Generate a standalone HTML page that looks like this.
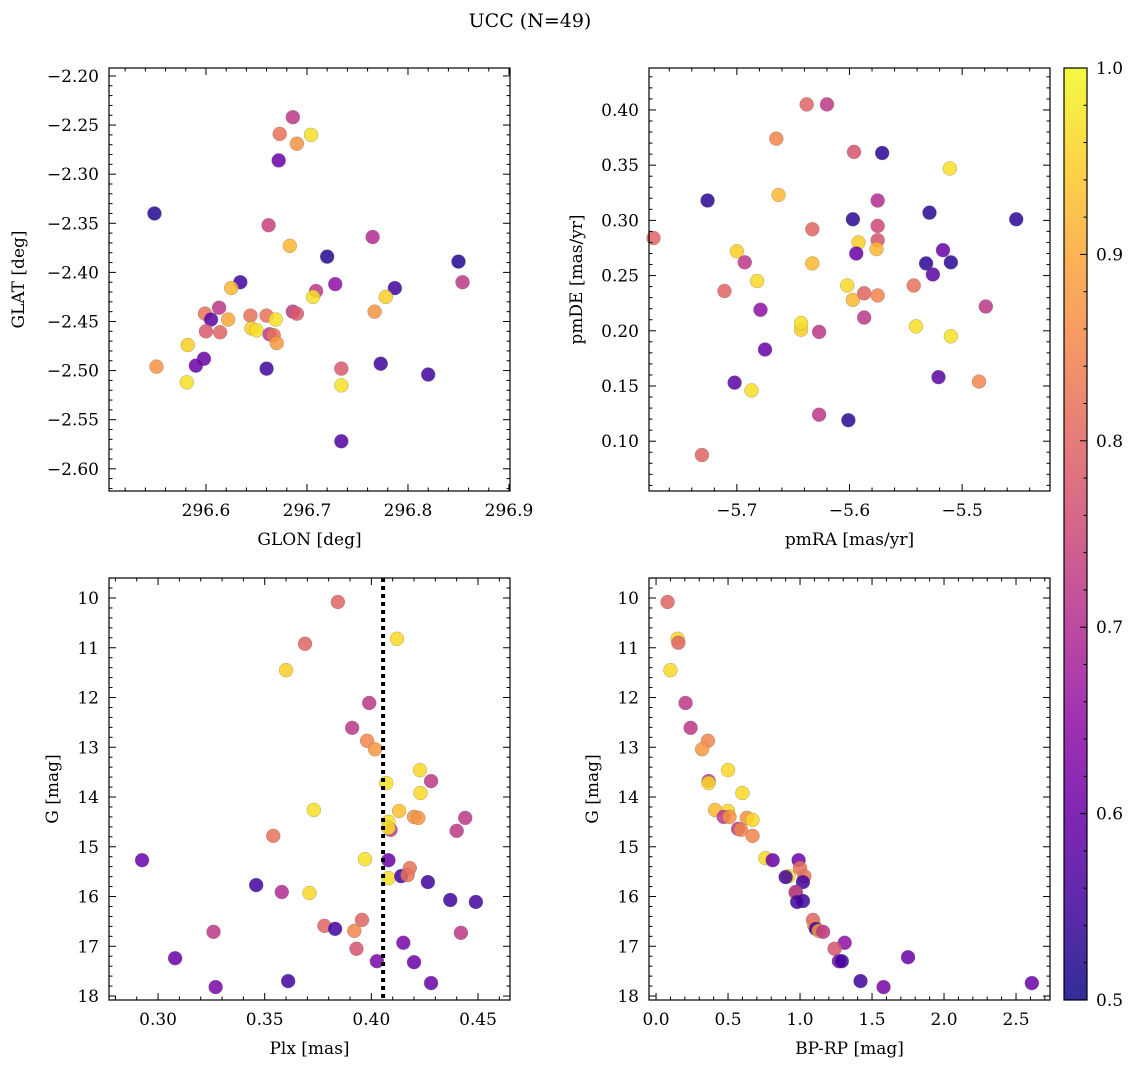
<!DOCTYPE html>
<html><head><meta charset="utf-8"><style>
body{margin:0;background:#fff}
svg{display:block;font-family:"DejaVu Serif","Liberation Serif",serif}
</style></head><body>
<svg id="fig" width="1136" height="1067" xmlns="http://www.w3.org/2000/svg">
<text x="530" y="27" font-size="19" text-anchor="middle">UCC (N=49)</text>
</svg>
<script>
// Panel 1: GLON vs GLAT
const glon=[296.549,296.686,296.673,296.704,296.690,296.672,296.662,296.683,296.720,296.765,296.850,296.634,296.854,296.728,296.787,296.625,296.709,296.706,296.778,296.599,296.644,296.660,296.686,296.690,296.767,296.605,296.622,296.669,296.613,296.600,296.614,296.645,296.650,296.663,296.667,296.670,296.582,296.598,296.590,296.551,296.660,296.734,296.773,296.820,296.581,296.734,296.734];
const glat=[-2.340,-2.242,-2.259,-2.260,-2.269,-2.286,-2.352,-2.373,-2.384,-2.364,-2.389,-2.410,-2.410,-2.412,-2.416,-2.416,-2.419,-2.425,-2.425,-2.442,-2.444,-2.444,-2.440,-2.442,-2.440,-2.448,-2.448,-2.448,-2.436,-2.460,-2.461,-2.457,-2.459,-2.463,-2.464,-2.472,-2.474,-2.488,-2.495,-2.496,-2.498,-2.498,-2.493,-2.504,-2.512,-2.515,-2.572];
const prob1=[0.52,0.72,0.82,0.97,0.87,0.6,0.74,0.92,0.52,0.7,0.52,0.55,0.72,0.65,0.55,0.92,0.72,0.97,0.95,0.82,0.82,0.82,0.72,0.78,0.87,0.58,0.9,0.97,0.72,0.78,0.8,0.95,0.97,0.72,0.82,0.88,0.95,0.6,0.6,0.87,0.55,0.78,0.55,0.55,0.97,0.97,0.57];
// Panel 2: pmRA vs pmDE
const pmra=[-5.774,-5.726,-5.711,-5.700,-5.693,-5.682,-5.731,-5.702,-5.687,-5.679,-5.675,-5.665,-5.663,-5.638,-5.620,-5.633,-5.633,-5.643,-5.643,-5.627,-5.627,-5.596,-5.571,-5.597,-5.575,-5.575,-5.575,-5.592,-5.576,-5.594,-5.602,-5.597,-5.587,-5.575,-5.587,-5.601,-5.511,-5.543,-5.541,-5.529,-5.532,-5.517,-5.510,-5.526,-5.521,-5.510,-5.485,-5.479,-5.452];
const pmde=[0.284,0.318,0.236,0.272,0.262,0.245,0.0875,0.153,0.146,0.219,0.183,0.374,0.323,0.405,0.405,0.292,0.261,0.201,0.207,0.199,0.124,0.362,0.361,0.301,0.318,0.295,0.282,0.280,0.274,0.270,0.241,0.228,0.234,0.232,0.212,0.119,0.347,0.241,0.204,0.307,0.261,0.273,0.262,0.251,0.158,0.195,0.154,0.222,0.301];
const prob2=[0.8,0.53,0.8,0.95,0.72,0.96,0.8,0.58,0.97,0.65,0.6,0.85,0.92,0.8,0.72,0.8,0.92,0.95,0.97,0.72,0.72,0.77,0.53,0.53,0.7,0.75,0.77,0.95,0.92,0.6,0.96,0.92,0.8,0.85,0.72,0.53,0.97,0.82,0.97,0.53,0.53,0.6,0.53,0.58,0.58,0.97,0.85,0.72,0.53];
// Panel 3: Plx vs G
const plx=[0.3843,0.3689,0.412,0.360,0.399,0.391,0.398,0.4017,0.4228,0.428,0.407,0.423,0.373,0.413,0.408,0.420,0.422,0.444,0.409,0.408,0.440,0.354,0.2925,0.397,0.408,0.418,0.408,0.414,0.417,0.4265,0.346,0.358,0.371,0.437,0.449,0.3956,0.378,0.383,0.392,0.326,0.442,0.415,0.393,0.308,0.4026,0.420,0.361,0.428,0.327];
const gmag3=[10.08,10.92,10.82,11.45,12.11,12.61,12.87,13.04,13.46,13.68,13.72,13.92,14.26,14.28,14.50,14.40,14.42,14.42,14.66,14.62,14.68,14.78,15.27,15.25,15.27,15.43,15.63,15.59,15.57,15.71,15.77,15.91,15.93,16.07,16.11,16.47,16.59,16.65,16.69,16.71,16.73,16.93,17.05,17.24,17.30,17.32,17.70,17.74,17.82];
const prob3=[0.8,0.8,0.96,0.95,0.72,0.72,0.85,0.88,0.96,0.72,0.97,0.96,0.97,0.93,0.97,0.87,0.87,0.72,0.72,0.97,0.72,0.82,0.6,0.97,0.6,0.82,0.97,0.55,0.82,0.55,0.55,0.7,0.96,0.55,0.55,0.8,0.8,0.55,0.85,0.72,0.72,0.62,0.77,0.6,0.62,0.6,0.55,0.6,0.62];
const plxMedian=[0.4055];
// Panel 4: BP-RP vs G
const bprp=[0.08,0.15,0.155,0.10,0.205,0.24,0.36,0.32,0.50,0.365,0.365,0.60,0.41,0.50,0.47,0.51,0.63,0.67,0.57,0.59,0.67,0.76,0.81,0.99,1.00,0.92,0.90,1.03,1.02,0.97,0.97,1.02,0.98,1.09,1.10,1.11,1.13,1.16,1.31,1.24,1.27,1.29,1.42,1.58,1.75,2.61];
const gmag4=[10.08,10.82,10.9,11.45,12.11,12.61,12.87,13.04,13.46,13.68,13.72,13.92,14.26,14.28,14.4,14.4,14.42,14.46,14.64,14.66,14.78,15.23,15.27,15.27,15.43,15.59,15.61,15.59,15.71,15.93,15.91,16.09,16.11,16.47,16.59,16.65,16.69,16.71,16.93,17.05,17.3,17.3,17.7,17.82,17.22,17.74];
const prob4=[0.8,0.96,0.8,0.96,0.72,0.72,0.85,0.88,0.96,0.72,0.96,0.96,0.92,0.96,0.72,0.87,0.87,0.96,0.72,0.85,0.85,0.96,0.6,0.6,0.82,0.96,0.55,0.82,0.55,0.97,0.7,0.55,0.55,0.8,0.85,0.55,0.88,0.72,0.65,0.77,0.62,0.55,0.55,0.62,0.6,0.6];
const cbTicks=[0.5,0.6,0.7,0.8,0.9,1.0];

const NS='http://www.w3.org/2000/svg';
const svg=document.getElementById('fig');
function mk(tag,attrs,parent){const e=document.createElementNS(NS,tag);for(const k in attrs)e.setAttribute(k,attrs[k]);(parent||svg).appendChild(e);return e;}
const stops=[[13,8,135],[65,4,157],[106,0,168],[143,13,164],[177,42,144],[204,71,120],[225,100,98],[242,132,75],[252,166,54],[252,206,37],[240,249,33]];
function plasma(t){t=Math.max(0,Math.min(1,t))*10;const i=Math.min(9,Math.floor(t)),f=t-i;const a=stops[i],b=stops[i+1];return 'rgb('+a.map((v,k)=>Math.round(v+(b[k]-v)*f)).join(',')+')';}
function cmap(p){return plasma((p-0.5)/0.5);}
const FS=17;

function panel(o){
  const g=mk('g',{});
  
  
  const sx=v=>o.x0+(v-o.xd[0])/(o.xd[1]-o.xd[0])*(o.x1-o.x0);
  const sy=v=>o.y0+(v-o.yd[0])/(o.yd[1]-o.yd[0])*(o.y1-o.y0);
  for(let i=0;i<Math.min(o.xs.length,o.ys.length);i++){
    const c=mk('circle',{cx:sx(o.xs[i]),cy:sy(o.ys[i]),r:7,fill:cmap(o.cs[i]),'fill-opacity':0.85,stroke:'#777','stroke-width':0.5,'stroke-opacity':0.6},g);
    
    
  }
  if(o.vline!==undefined){
    const l=mk('line',{x1:sx(o.vline),x2:sx(o.vline),y1:o.y0,y2:o.y1,stroke:'#000','stroke-width':4,'stroke-dasharray':'4,4'},g);
    
    
  }
  const top=Math.min(o.y0,o.y1),bot=Math.max(o.y0,o.y1);
  const fr=mk('rect',{x:o.x0,y:top,width:o.x1-o.x0,height:bot-top,fill:'none',stroke:'#000','stroke-width':1.2},g);
  
  
  const eps=1e-9;
  let n0=Math.ceil((Math.min(...o.xd))/o.xmin-eps),n1=Math.floor(Math.max(...o.xd)/o.xmin+eps);
  for(let n=n0;n<=n1;n++){const v=n*o.xmin;const major=Math.abs(v/o.xmaj-Math.round(v/o.xmaj))<1e-6;const L=major?7:3.5;const X=sx(v);
    mk('line',{x1:X,x2:X,y1:bot,y2:bot-L,stroke:'#000','stroke-width':1},g);mk('line',{x1:X,x2:X,y1:top,y2:top+L,stroke:'#000','stroke-width':1},g);
    if(major){const t=mk('text',{x:X,y:bot+25,'font-size':FS,'text-anchor':'middle'},g);t.textContent=o.xfmt(v).replace('-','\u2212');}}
  n0=Math.ceil(Math.min(...o.yd)/o.ymin-eps);n1=Math.floor(Math.max(...o.yd)/o.ymin+eps);
  for(let n=n0;n<=n1;n++){const v=n*o.ymin;const major=Math.abs(v/o.ymaj-Math.round(v/o.ymaj))<1e-6;const L=major?7:3.5;const Y=sy(v);
    mk('line',{x1:o.x0,x2:o.x0+L,y1:Y,y2:Y,stroke:'#000','stroke-width':1},g);mk('line',{x1:o.x1,x2:o.x1-L,y1:Y,y2:Y,stroke:'#000','stroke-width':1},g);
    if(major){const t=mk('text',{x:o.x0-10,y:Y+6,'font-size':FS,'text-anchor':'end'},g);t.textContent=o.yfmt(v).replace('-','\u2212');}}
  const xl=mk('text',{x:(o.x0+o.x1)/2,y:bot+54,'font-size':FS,'text-anchor':'middle'},g);xl.textContent=o.xlab;
  
  const yl=mk('text',{x:0,y:0,'font-size':FS,'text-anchor':'middle',transform:`translate(${o.ylx},${(top+bot)/2}) rotate(-90)`},g);yl.textContent=o.ylab;
  
}
panel({name:'glon-glat-panel',x0:109,x1:510,y0:68,y1:491,xd:[296.504,296.901],yd:[-2.1919,-2.6226],xs:glon,ys:glat,cs:prob1,xmaj:0.1,xmin:0.02,ymaj:0.05,ymin:0.01,xfmt:v=>v.toFixed(1),yfmt:v=>v.toFixed(2),xlab:'GLON [deg]',ylab:'GLAT [deg]',ylx:24});
panel({name:'pm-panel',x0:649,x1:1050,y0:68,y1:491,xd:[-5.778,-5.422],yd:[0.438,0.0549],xs:pmra,ys:pmde,cs:prob2,xmaj:0.1,xmin:0.02,ymaj:0.05,ymin:0.01,xfmt:v=>v.toFixed(1),yfmt:v=>v.toFixed(2),xlab:'pmRA [mas/yr]',ylab:'pmDE [mas/yr]',ylx:582});
panel({name:'plx-g-panel',x0:109,x1:510,y0:578,y1:1000,xd:[0.277,0.465],yd:[9.598,18.08],xs:plx,ys:gmag3,cs:prob3,vline:plxMedian[0],xmaj:0.05,xmin:0.01,ymaj:1,ymin:0.2,xfmt:v=>v.toFixed(2),yfmt:v=>String(Math.round(v)),xlab:'Plx [mas]',ylab:'G [mag]',ylx:58});
panel({name:'cmd-panel',x0:649,x1:1050,y0:578,y1:1000,xd:[-0.049,2.736],yd:[9.598,18.08],xs:bprp,ys:gmag4,cs:prob4,xmaj:0.5,xmin:0.1,ymaj:1,ymin:0.2,xfmt:v=>v.toFixed(1),yfmt:v=>String(Math.round(v)),xlab:'BP-RP [mag]',ylab:'G [mag]',ylx:598});

const cb=mk('g',{});


const defs=mk('defs',{},cb);
const lg=mk('linearGradient',{id:'pg',x1:0,y1:1,x2:0,y2:0},defs);
for(let i=0;i<=20;i++){mk('stop',{offset:i/20,'stop-color':plasma(i/20),'stop-opacity':0.85},lg);}
const cbx0=1064,cbx1=1087,cby0=68,cby1=1000;
mk('rect',{x:cbx0,y:cby0,width:cbx1-cbx0,height:cby1-cby0,fill:'url(#pg)',stroke:'#000','stroke-width':1.2},cb);
const cy=v=>cby1-(v-0.5)/0.5*(cby1-cby0);
for(let n=25;n<=50;n++){const v=n/50;const major=n%5===0;const Y=cy(v);const L=major?7:3.5;
  mk('line',{x1:cbx1,x2:cbx1-L,y1:Y,y2:Y,stroke:'#000','stroke-width':1},cb);}
cbTicks.forEach(v=>{const t=mk('text',{x:cbx1+9,y:cy(v)+6,'font-size':FS},cb);t.textContent=v.toFixed(1);
  
  });
</script>
</body></html>
